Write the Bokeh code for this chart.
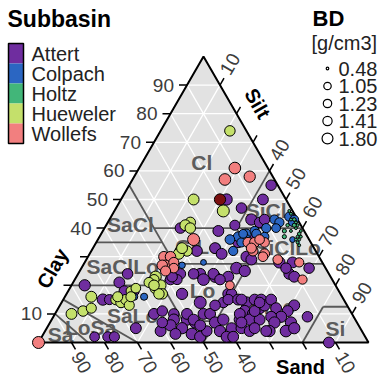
import numpy as np
from bokeh.plotting import figure
from bokeh.models import Range1d
from bokeh.embed import file_html
from bokeh.resources import INLINE
from bokeh.core.properties import value

# ---------------- soil texture samples: % clay, % silt, % sand, bulk density ----------------
attert_clay = [50, 47, 50, 55, 43, 42, 43, 40, 39, 41, 36, 33, 31, 35, 32, 30, 29, 28, 28, 24,
               23, 26, 26, 24, 23, 26, 24, 24, 24, 23, 22, 25, 22, 22, 22, 17, 17, 14, 14, 10,
               10, 10, 8, 8, 7, 5, 3, 6, 2, 4, 10, 8, 3, 4, 10, 7, 4, 5, 2, 5,
               4, 8, 8, 17, 15, 15, 14, 15, 15, 11, 10, 12, 13, 10, 8, 8, 7, 15, 12, 13,
               11, 9, 9, 7, 7, 4, 4, 5, 9, 0, 11, 4, 14, 7, 11, 24, 20, 21, 18, 18,
               15, 15, 5, 2, 2, 2, 23, 15, 6, 13, 2, 5]
attert_silt = [32, 38, 43, 43, 43, 46, 47, 23, 35, 39, 46, 37, 40, 43, 32, 48, 50, 59, 63, 64,
               66, 69, 62, 37, 42, 47, 31, 35, 41, 46, 44, 50, 39, 29, 31, 35, 49, 49, 42, 30,
               36, 45, 37, 41, 44, 41, 45, 37, 48, 35, 40, 43, 40, 49, 47, 50, 53, 56, 56, 59,
               62, 57, 52, 50, 50, 53, 56, 58, 60, 57, 60, 61, 62, 56, 60, 63, 58, 63, 66, 71,
               70, 69, 66, 68, 73, 73, 68, 75, 77, 88, 60, 67, 60, 34, 32, 15, 4, 14, 17, 20,
               12, 14, 27, 16, 20, 22, 29, 54, 46, 47, 58, 63]
attert_sand = [18, 15, 7, 2, 14, 12, 10, 37, 26, 20, 18, 30, 29, 22, 36, 22, 21, 13, 9, 12,
               11, 5, 12, 39, 35, 27, 45, 41, 35, 31, 34, 25, 39, 49, 47, 48, 34, 37, 44, 60,
               54, 45, 55, 51, 49, 54, 52, 57, 50, 61, 50, 49, 57, 47, 43, 43, 43, 39, 42, 36,
               34, 35, 40, 33, 35, 32, 30, 27, 25, 32, 30, 27, 25, 34, 32, 29, 35, 22, 22, 16,
               19, 22, 25, 25, 20, 23, 28, 20, 14, 12, 29, 29, 26, 59, 57, 61, 76, 65, 65, 62,
               73, 71, 68, 82, 78, 76, 48, 31, 48, 40, 40, 32]
attert_bd = [1.9, 1.7, 1.8, 1.7, 1.9, 1.7, 1.7, 1.7, 1.8, 1.6, 1.7, 1.8, 1.8, 1.7, 1.8, 1.8, 1.8, 1.9, 1.8, 1.8,
             1.8, 1.7, 1.7, 1.8, 1.9, 2.0, 1.7, 1.7, 1.8, 1.8, 1.7, 1.9, 2.0, 1.7, 1.6, 1.9, 1.8, 1.7, 2.1, 1.8,
             1.7, 1.8, 1.9, 1.9, 1.9, 1.9, 2.0, 1.9, 1.9, 1.8, 1.8, 1.8, 1.8, 1.7, 1.8, 1.9, 1.9, 1.8, 1.8, 1.8,
             1.8, 1.9, 1.9, 1.7, 1.7, 1.8, 1.9, 1.8, 1.8, 1.9, 1.9, 1.9, 1.9, 1.8, 1.9, 1.8, 1.8, 1.8, 1.8, 1.8,
             1.8, 1.9, 1.8, 1.9, 1.9, 2.0, 1.9, 1.9, 1.7, 1.8, 1.8, 1.8, 1.7, 1.7, 1.7, 1.7, 1.9, 1.8, 1.7, 1.6,
             1.9, 1.6, 1.8, 1.5, 1.6, 1.6, 1.7, 1.8, 1.8, 1.7, 1.8, 1.8]

colpach_clay = [37, 38, 36, 35, 36, 32, 38, 39, 38, 40, 37, 43, 42, 40, 44, 43, 42, 36, 28, 27, 16, 16]
colpach_silt = [42, 44, 45, 44, 40, 43, 43, 46, 47, 49, 50, 50, 52, 52, 54, 56, 56, 59, 36, 30, 24, 21]
colpach_sand = [21, 18, 19, 21, 24, 25, 19, 15, 15, 11, 13, 7, 6, 8, 2, 1, 2, 5, 36, 43, 60, 63]
colpach_bd = [1.5, 1.5, 1.5, 1.4, 1.5, 1.4, 1.3, 1.4, 1.4, 1.4, 1.3, 1.4, 1.4, 1.3, 1.4, 1.3, 1.2, 0.8, 0.8, 0.9, 1.0, 1.0]

holtz_clay = [40, 39, 38, 41, 42, 39, 35, 37, 41, 43, 46, 45, 43, 43, 39, 37, 36, 41, 36, 37, 34]
holtz_silt = [58, 60, 60, 58, 57, 55, 61, 61, 57, 56, 53, 54, 56, 55, 57, 60, 60, 55, 61, 56, 62]
holtz_sand = [2, 1, 2, 1, 1, 6, 4, 2, 2, 1, 1, 1, 1, 2, 4, 3, 4, 4, 3, 7, 4]
holtz_bd = [0.5, 0.5, 0.55, 0.5, 0.5, 0.6, 0.5, 0.5, 0.6, 0.5, 0.5, 0.5, 0.55, 0.5, 0.5, 0.5, 0.5, 0.55, 0.5, 0.6, 0.5]

hueweler_clay = [74, 50, 46, 42, 41, 40, 32, 32, 31, 33, 23, 19, 20, 17, 17, 22, 21, 16, 10, 11,
                 12, 15, 14, 15, 13, 18, 16, 19, 20, 16]
hueweler_silt = [21, 22, 33, 25, 24, 26, 27, 29, 27, 27, 24, 26, 27, 29, 28, 24, 23, 8, 5, 8,
                 10, 16, 18, 19, 21, 19, 20, 20, 25, 16]
hueweler_sand = [5, 28, 21, 33, 35, 34, 41, 39, 42, 40, 53, 55, 53, 54, 55, 54, 56, 76, 85, 81,
                 78, 69, 68, 66, 66, 63, 64, 61, 55, 68]
hueweler_bd = [1.7, 1.8, 2.1, 1.7, 1.8, 1.7, 1.8, 1.7, 1.8, 1.8, 1.9, 1.9, 1.8, 1.7, 1.7, 1.6, 1.6, 1.8, 1.8, 1.7,
               1.6, 1.7, 1.7, 1.7, 1.6, 1.5, 1.6, 1.5, 1.7, 1.6]

wollefs_clay = [0, 61, 57, 58, 36, 30, 30, 27, 28, 27, 26, 25, 35, 35, 32, 35, 31, 30, 33, 36, 29, 28, 22, 20]
wollefs_silt = [0, 29, 28, 35, 29, 23, 25, 25, 27, 24, 28, 26, 46, 48, 49, 51, 53, 53, 48, 49, 58, 65, 69, 48]
wollefs_sand = [100, 10, 15, 7, 35, 47, 45, 48, 45, 49, 46, 49, 19, 17, 19, 14, 16, 17, 19, 15, 13, 7, 9, 32]
wollefs_bd = [2.1, 2.0, 2.0, 1.9, 2.1, 1.7, 1.7, 1.7, 1.6, 1.7, 1.5, 1.6, 1.6, 1.6, 1.6, 1.5, 1.6, 1.5, 1.6, 1.5, 1.5, 1.4, 1.4, 1.3]

# one sample without a valid subbasin colour
flagged_clay = [50]
flagged_silt = [30]
flagged_sand = [20]
flagged_bd = [1.9]

subbasins = ["Attert", "Colpach", "Holtz", "Hueweler", "Wollefs"]
subbasin_colors = ["#6f2d9f", "#2b66c2", "#42b679", "#c4e06b", "#f27f7f"]
flagged_color = "#7a1010"

bd_breaks = [0.48, 1.05, 1.23, 1.41, 1.80]
bd_labels = ["0.48", "1.05", "1.23", "1.41", "1.80"]

tick_values = [10, 20, 30, 40, 50, 60, 70, 80, 90]
hidden_ticks = [20, 30]

# texture classes: label and label anchor (% clay, % silt)
class_names = ["Cl", "SiCl", "SaCl", "SaClLo", "ClLo", "SiClLo", "Lo", "SiLo", "SaLo", "LoSa", "Sa", "Si"]
class_clay = [63, 46, 41.3, 26.6, 33.6, 33.2, 18.2, 12.6, 9.4, 5.2, 2.8, 4.9]
class_silt = [18, 46, 7.2, 12.2, 31.7, 58.9, 40.6, 64.6, 23.8, 13.2, 5.3, 87.5]

# USDA class boundaries as (clay, silt) pairs
boundaries = [((55, 0), (27.5, 27.5)), ((40, 15), (40, 60)), ((40, 40), (60, 40)),
              ((35, 0), (35, 20)), ((27.5, 27.5), (27.5, 72.5)), ((40, 40), (27.5, 52.5)),
              ((20, 0), (20, 27.5)), ((20, 27.5), (27.5, 27.5)), ((20, 27.5), (7.5, 40)),
              ((7.5, 40), (7.5, 50)), ((27.5, 50), (0, 50)), ((12.5, 87.5), (12.5, 80)),
              ((12.5, 80), (0, 80)), ((15, 0), (0, 30)), ((10, 0), (0, 15))]

# ---------------- ternary geometry ----------------
X0, W = 38.0, 330.0     # left corner and base width
YB, H = 39.0, 286.0     # base height and triangle height

def tern(clay, silt):
    clay = np.asarray(clay, dtype=float)
    silt = np.asarray(silt, dtype=float)
    return X0 + W * (silt + clay / 2.0) / 100.0, YB + H * clay / 100.0

def bd_size(bd):
    return np.sqrt(85.0 * np.clip(np.asarray(bd, dtype=float) - 0.4, 0.02, None))

FONT = value("Liberation Sans")

p = figure(width=384, height=381, x_range=Range1d(0, 384), y_range=Range1d(0, 381),
           toolbar_location=None, output_backend="svg", min_border=0)
p.axis.visible = False
p.grid.visible = False
p.outline_line_color = None
p.background_fill_color = "white"

# panel
tx, ty = tern([0, 0, 100], [0, 100, 0])
p.patch(list(tx), list(ty), fill_color="#e2e2e2", line_color=None)

# white grid
gx, gy = [], []
for v in tick_values:
    a = tern([v, v], [0, 100 - v]); gx.append(list(a[0])); gy.append(list(a[1]))        # clay
    b = tern([0, 100 - v], [v, v]); gx.append(list(b[0])); gy.append(list(b[1]))        # silt
    c = tern([0, 100 - v], [100 - v, 0]); gx.append(list(c[0])); gy.append(list(c[1]))  # sand
p.multi_line(gx, gy, line_color="white", line_width=1.3)

# class boundaries
bx, by = [], []
for (c0, s0), (c1, s1) in boundaries:
    xx, yy = tern([c0, c1], [s0, s1])
    bx.append(list(xx)); by.append(list(yy))
p.multi_line(bx, by, line_color="#585858", line_width=1.8)

lx, ly = tern(class_clay, class_silt)
p.text(x=list(lx), y=list(ly), text=class_names, text_font=FONT, text_font_size="21px",
       text_font_style="bold", text_color="#5c5c5c", text_align="center", text_baseline="middle")

# triangle border
p.line(list(tx) + [tx[0]], list(ty) + [ty[0]], line_color="black", line_width=2)

# ticks
tv = np.array(tick_values, dtype=float)
cx, cy = tern(tv, np.zeros_like(tv))
p.segment(cx, cy, cx - 8, cy, line_color="black", line_width=1.5)
sx, sy = tern(100 - tv, tv)
p.segment(sx, sy, sx + 4, sy + 6.9, line_color="black", line_width=1.5)
ax, ay = tern(np.zeros_like(tv), 100 - tv)
p.segment(ax, ay, ax + 4, ay - 6.9, line_color="black", line_width=1.5)

shown = [i for i, v in enumerate(tick_values) if v not in hidden_ticks]
lab = [str(tick_values[i]) for i in shown]
p.text(x=[cx[i] - 13 for i in shown], y=[cy[i] for i in shown], text=lab, text_font=FONT,
       text_font_size="19px", text_color="#3c3c3c", text_align="right", text_baseline="middle")
p.text(x=[sx[i] + 10 for i in shown], y=[sy[i] + 21 for i in shown], text=lab, text_font=FONT,
       text_font_size="19px", text_color="#3c3c3c", text_align="center", text_baseline="middle",
       angle=np.pi / 3)
p.text(x=[ax[i] + 10 for i in shown], y=[ay[i] - 20 for i in shown], text=lab, text_font=FONT,
       text_font_size="19px", text_color="#3c3c3c", text_align="center", text_baseline="middle",
       angle=-np.pi / 3)

# axis titles
p.text(x=[52], y=[381 - 268], text=["Clay"], text_font=FONT, text_font_size="20px", text_font_style="bold",
       text_color="black", text_align="center", text_baseline="middle", angle=np.pi / 3)
p.text(x=[257], y=[381 - 103], text=["Silt"], text_font=FONT, text_font_size="20px", text_font_style="bold",
       text_color="black", text_align="center", text_baseline="middle", angle=-np.pi / 3)
p.text(x=[300], y=[381 - 366], text=["Sand"], text_font=FONT, text_font_size="20px", text_font_style="bold",
       text_color="black", text_align="center", text_baseline="middle")

# samples
groups = [
    (attert_clay, attert_silt, attert_bd, subbasin_colors[0]),
    (colpach_clay, colpach_silt, colpach_bd, subbasin_colors[1]),
    (hueweler_clay, hueweler_silt, hueweler_bd, subbasin_colors[3]),
    (wollefs_clay, wollefs_silt, wollefs_bd, subbasin_colors[4]),
    (holtz_clay, holtz_silt, holtz_bd, subbasin_colors[2]),
    (flagged_clay, flagged_silt, flagged_bd, flagged_color),
]
for clay, silt, bd, col in groups:
    px, py = tern(clay, silt)
    p.scatter(px, py, size=bd_size(bd), fill_color=col, line_color="black", line_width=1)

# subbasin legend (stacked colour keys)
key_top = 381 - 43
for i, (name, col) in enumerate(zip(subbasins, subbasin_colors)):
    top = key_top - 20 * i
    p.quad(left=8, right=23, top=top, bottom=top - 20, fill_color=col, line_color=None)
    p.text(x=[31], y=[top - 10], text=[name], text_font=FONT, text_font_size="20px",
           text_color="#222222", text_align="left", text_baseline="middle")
p.quad(left=8, right=23, top=key_top, bottom=key_top - 100, fill_color=None, line_color="black", line_width=1.5)
p.text(x=[7], y=[381 - 18], text=["Subbasin"], text_font=FONT, text_font_size="23px", text_font_style="bold",
       text_color="black", text_align="left", text_baseline="middle")

# bulk density legend
p.text(x=[312], y=[381 - 18], text=["BD"], text_font=FONT, text_font_size="22px", text_font_style="bold",
       text_color="black", text_align="left", text_baseline="middle")
p.text(x=[311], y=[381 - 42], text=["[g/cm3]"], text_font=FONT, text_font_size="20px",
       text_color="#222222", text_align="left", text_baseline="middle")
rows_y = [381 - 68, 381 - 85.5, 381 - 103, 381 - 120.5, 381 - 138]
p.scatter([327] * 5, rows_y, size=bd_size(bd_breaks), fill_color=None, line_color="black", line_width=1.2)
p.text(x=[338] * 5, y=rows_y, text=bd_labels, text_font=FONT, text_font_size="20px",
       text_color="#222222", text_align="left", text_baseline="middle")

open("out.html", "w").write(file_html(p, INLINE))
